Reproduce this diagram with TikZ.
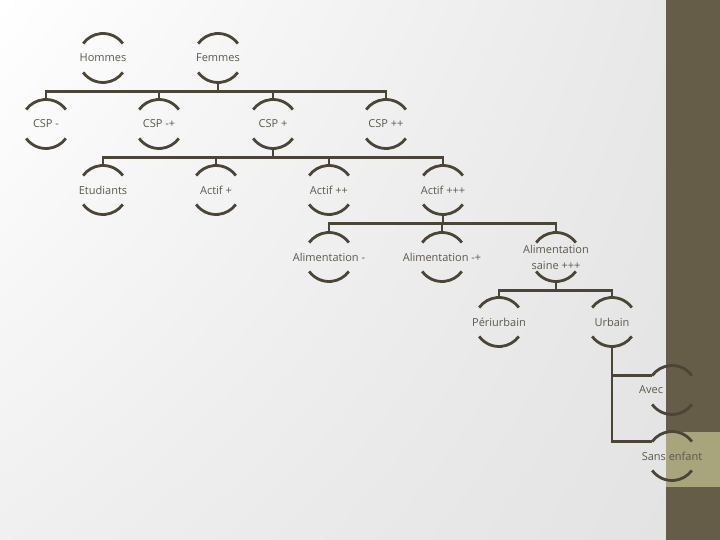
\documentclass[tikz,border=0pt]{standalone}
\usepackage{fontspec}
\setmainfont{Open Sans}
\usepackage{xcolor}
\usepackage{tikz}
\usetikzlibrary{shadings}
\definecolor{line-color}{RGB}{75,69,55}
\definecolor{text-color}{RGB}{92,88,76}
\definecolor{bar-dark}{RGB}{101,93,72}
\definecolor{bar-light}{RGB}{168,164,124}
\tikzset{
    ring-line/.style = {draw=line-color, line width=2.8pt},
    link/.style = {draw=line-color, line width=2.8pt},
    lbl/.style = {text=text-color, inner sep=0pt, align=center,
        font=\fontsize{11}{16}\selectfont},
    pics/ring/.style = {
        code = {%
        \coordinate (-center) at (0,0);
        \draw[ring-line] (36:24.5) arc[start angle=36, end angle=144, radius=24.5];
        \draw[ring-line] (216:24.5) arc[start angle=216, end angle=324, radius=24.5];
        \coordinate (-north) at (90:24.5);
        \coordinate (-south) at (270:24.5);
        \coordinate (-nw) at (144:24.5);
        }
    },
}

\begin{document}
\begin{tikzpicture}[x=1pt,y=1pt]

\useasboundingbox (0,0) rectangle (720,540);
\shade[upper left=white, upper right=black!9, lower left=black!6, lower right=black!11]
    (0,0) rectangle (666,540);
\fill[bar-dark] (666,0) rectangle (720,540);
\fill[bar-light] (666,53) rectangle (720,108);

\pic(hom) at (103,482) {ring};
\node[lbl] (hom-t) at (hom-center) {Hommes};
\pic(fem) at (218,482) {ring};
\node[lbl] (fem-t) at (fem-center) {Femmes};

\pic(csp1) at (46,416) {ring};
\node[lbl] (csp1-t) at (csp1-center) {CSP -};
\pic(csp2) at (159,416) {ring};
\node[lbl] (csp2-t) at (csp2-center) {CSP -+};
\pic(csp3) at (273,416) {ring};
\node[lbl] (csp3-t) at (csp3-center) {CSP +};
\pic(csp4) at (386,416) {ring};
\node[lbl] (csp4-t) at (csp4-center) {CSP ++};

\pic(etu) at (103,350) {ring};
\node[lbl] (etu-t) at (etu-center) {Etudiants};
\pic(act1) at (216,350) {ring};
\node[lbl] (act1-t) at (act1-center) {Actif +};
\pic(act2) at (329,350) {ring};
\node[lbl] (act2-t) at (act2-center) {Actif ++};
\pic(act3) at (443,350) {ring};
\node[lbl] (act3-t) at (act3-center) {Actif +++};

\pic(ali1) at (329,283) {ring};
\node[lbl] (ali1-t) at (ali1-center) {Alimentation -};
\pic(ali2) at (442,283) {ring};
\node[lbl] (ali2-t) at (ali2-center) {Alimentation -+};
\pic(ali3) at (556,283) {ring};
\node[lbl] (ali3-t) at (ali3-center) {Alimentation\\saine +++};

\pic(peri) at (499,218) {ring};
\node[lbl] (peri-t) at (peri-center) {Périurbain};
\pic(urb) at (612,218) {ring};
\node[lbl] (urb-t) at (urb-center) {Urbain};

\pic(avec) at (672,150) {ring};
\node[lbl, anchor=west] (avec-t) at (639,150) {Avec};
\pic(sans) at (672,84) {ring};
\node[lbl] (sans-t) at (sans-center) {Sans enfant};

\draw[link] (fem-south) -- ++(0,-9) -| (csp1-north);
\draw[link] (fem-south) -- ++(0,-9) -| (csp2-north);
\draw[link] (fem-south) -- ++(0,-9) -| (csp3-north);
\draw[link] (fem-south) -- ++(0,-9) -| (csp4-north);

\draw[link] (csp3-south) -- ++(0,-9) -| (etu-north);
\draw[link] (csp3-south) -- ++(0,-9) -| (act1-north);
\draw[link] (csp3-south) -- ++(0,-9) -| (act2-north);
\draw[link] (csp3-south) -- ++(0,-9) -| (act3-north);

\draw[link] (act3-south) -- ++(0,-9) -| (ali1-north);
\draw[link] (act3-south) -- ++(0,-9) -| (ali2-north);
\draw[link] (act3-south) -- ++(0,-9) -| (ali3-north);

\draw[link] (ali3-south) -- ++(0,-9) -| (peri-north);
\draw[link] (ali3-south) -- ++(0,-9) -| (urb-north);

\draw[link] (urb-south) |- (avec-nw);
\draw[link] (urb-south) |- (sans-nw);

\end{tikzpicture}
\end{document}
